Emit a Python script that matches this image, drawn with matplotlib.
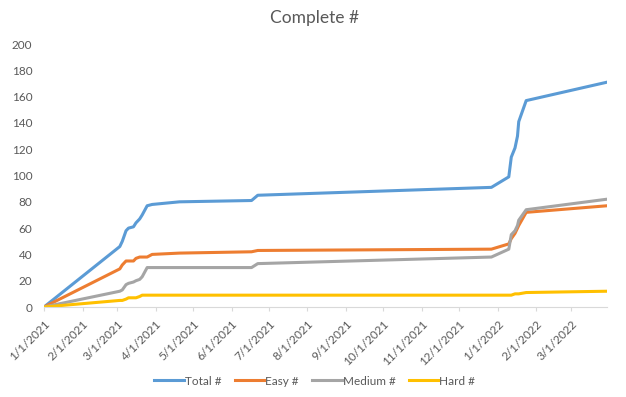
import matplotlib
matplotlib.use('Agg')
import matplotlib.pyplot as plt
import numpy as np
from datetime import datetime

plt.rcParams['font.family'] = ['Lato', 'DejaVu Sans']

#data
dates = ['2021-01-01', '2021-03-03', '2021-03-05', '2021-03-08', '2021-03-10',
         '2021-03-14', '2021-03-16', '2021-03-19', '2021-03-21', '2021-03-25',
         '2021-03-29', '2021-04-20', '2021-06-17', '2021-06-22', '2021-12-27',
         '2022-01-10', '2022-01-12', '2022-01-15', '2022-01-17', '2022-01-18',
         '2022-01-24', '2022-03-30']
total = [0, 46, 50, 58, 60, 61, 64, 67, 70, 77, 78, 80, 81, 85, 91,
         99, 114, 121, 130, 141, 157, 171]
easy = [0, 29, 32, 35, 35, 35, 37, 38, 38, 38, 40, 41, 42, 43, 44,
        48, 52, 56, 60, 62, 72, 77]
medium = [0, 12, 13, 17, 18, 19, 20, 21, 23, 30, 30, 30, 30, 33, 38,
          44, 55, 58, 62, 66, 74, 82]
hard = [0, 5, 5, 6, 7, 7, 7, 8, 9, 9, 9, 9, 9, 9, 9,
        9, 9, 10, 10, 10, 11, 12]

series_names = ['Total #', 'Easy #', 'Medium #', 'Hard #']
colors = ['#5B9BD5', '#ED7D31', '#A5A5A5', '#FFC000']

x = [datetime.strptime(d, '%Y-%m-%d') for d in dates]

fig = plt.figure(figsize=(6.26, 3.97), dpi=100)
ax = fig.add_axes([0.0703, 0.2267, 0.8993, 0.6623])

for vals, name, c in zip([total, easy, medium, hard], series_names, colors):
    ax.plot(x, vals, color=c, lw=2.2, label=name, solid_joinstyle='round')

ax.set_ylim(0, 200)
ax.set_yticks(np.arange(0, 201, 20))
ax.set_xlim(datetime(2021, 1, 1), datetime(2022, 3, 30))

months = [datetime(2021 + (m // 12), m % 12 + 1, 1) for m in range(15)]
ax.set_xticks(months)
ax.set_xticklabels([f'{d.month}/{d.day}/{d.year}' for d in months],
                   rotation=45, ha='right', rotation_mode='anchor')

for s in ['top', 'right', 'left']:
    ax.spines[s].set_visible(False)
ax.spines['bottom'].set_color('#D9D9D9')
ax.tick_params(axis='y', length=0, labelsize=8.5, labelcolor='#595959', pad=8.5)
ax.tick_params(axis='x', length=3, color='#D9D9D9', labelsize=8.5,
               labelcolor='#595959', pad=5)

fig.suptitle('Complete #', x=0.502, y=0.975, fontsize=12.5, color='#595959')

fig.legend(loc='center', bbox_to_anchor=(0.503, 0.040), ncol=4, frameon=False,
           fontsize=8.5, handlelength=2.5, handletextpad=0.1, columnspacing=1.1,
           labelcolor='#595959')

fig.savefig('out.png', dpi=100)
